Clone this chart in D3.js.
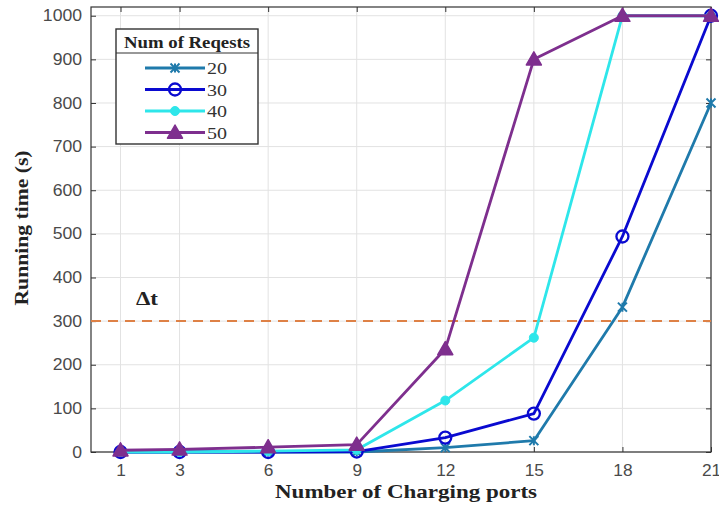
<!DOCTYPE html>
<html>
<head>
<meta charset="utf-8">
<script src="https://cdn.jsdelivr.net/npm/d3@7"></script>
<style>
  html, body { margin: 0; padding: 0; background: #fff; }
  svg { display: block; }
</style>
</head>
<body>
<svg id="chart" width="719" height="506"></svg>
<script>
// Number of charging ports on the x axis
const ports = [1, 3, 6, 9, 12, 15, 18, 21];
const xTicks = [1, 3, 6, 9, 12, 15, 18, 21];
const yTicks = [0, 100, 200, 300, 400, 500, 600, 700, 800, 900, 1000];

// Running time (s) for each number of requests
const run20 = [0, 0, 0, 0, 10, 26, 332, 800];
const run30 = [0, 0, 0, 1, 33, 88, 494, 1000];
const run40 = [0, 0, 2, 5, 118, 262, 1000, 1000];
const run50 = [4, 6, 11, 17, 236, 900, 1000, 1000];

const seriesNames = ["20", "30", "40", "50"];
const seriesColors = ["#1f7aab", "#0a0ad0", "#2ee6ea", "#7e2f8e"];
const seriesMarkers = ["asterisk", "circle", "dot", "triangle"];
const threshold = 300;
const thresholdLabel = "Δt";

const series = [run20, run30, run40, run50].map((vals, i) => ({
  name: seriesNames[i], color: seriesColors[i], marker: seriesMarkers[i],
  points: ports.map((p, j) => [p, vals[j]])
}));

const svg = d3.select("#chart");
const plotL = 91, plotR = 711, plotT = 7, plotB = 452;

const x = d3.scaleLinear().domain([0, 21]).range([plotL, plotR]);
const y = d3.scaleLinear().domain([0, 1020]).range([plotB, plotT]);

const serif = "'Liberation Serif', 'Times New Roman', serif";
const sans = "'Liberation Sans', Arial, sans-serif";

// widen text horizontally by a factor (the figure uses slightly wide glyphs)
function widen(sel, factor) {
  sel.each(function () {
    const len = this.getComputedTextLength();
    d3.select(this).attr("textLength", len * factor).attr("lengthAdjust", "spacingAndGlyphs");
  });
}

// grid
const grid = svg.append("g");
grid.selectAll(".gx").data(xTicks).enter().append("line")
  .attr("x1", d => x(d)).attr("x2", d => x(d))
  .attr("y1", plotT).attr("y2", plotB)
  .attr("stroke", "#e2e2e2").attr("stroke-width", 1);
grid.selectAll(".gy").data(yTicks).enter().append("line")
  .attr("x1", plotL).attr("x2", plotR)
  .attr("y1", d => y(d)).attr("y2", d => y(d))
  .attr("stroke", "#e2e2e2").attr("stroke-width", 1);

// axes with inward ticks on all sides
function styleAxis(g) {
  g.select(".domain").remove();
  g.selectAll(".tick line").attr("stroke", "#333").attr("stroke-width", 1);
  g.selectAll(".tick text").attr("fill", "#4a4a4a")
    .style("font-family", sans).style("font-size", "16px");
}
const xAxisG = svg.append("g").attr("transform", `translate(0,${plotB})`)
  .call(d3.axisBottom(x).tickValues(xTicks).tickSize(-5).tickPadding(13).tickFormat(d3.format("d")))
  .call(styleAxis);
svg.append("g").attr("transform", `translate(0,${plotT})`)
  .call(d3.axisTop(x).tickValues(xTicks).tickSize(-5).tickFormat(""))
  .call(styleAxis);
const yAxisG = svg.append("g").attr("transform", `translate(${plotL},0)`)
  .call(d3.axisLeft(y).tickValues(yTicks).tickSize(-5).tickPadding(9).tickFormat(d3.format("d")))
  .call(styleAxis);
svg.append("g").attr("transform", `translate(${plotR},0)`)
  .call(d3.axisRight(y).tickValues(yTicks).tickSize(-5).tickFormat(""))
  .call(styleAxis);
widen(xAxisG.selectAll(".tick text"), 1.08);
widen(yAxisG.selectAll(".tick text"), 1.1);

svg.append("rect").attr("x", plotL).attr("y", plotT)
  .attr("width", plotR - plotL).attr("height", plotB - plotT)
  .attr("fill", "none").attr("stroke", "#333").attr("stroke-width", 1.2);

// threshold line
svg.append("line")
  .attr("x1", plotL).attr("x2", plotR)
  .attr("y1", y(threshold)).attr("y2", y(threshold))
  .attr("stroke", "#de8146").attr("stroke-width", 2)
  .attr("stroke-dasharray", "10,7");
svg.append("text").attr("x", 136).attr("y", y(threshold) - 16)
  .text(thresholdLabel)
  .attr("textLength", 22).attr("lengthAdjust", "spacingAndGlyphs")
  .style("font-family", serif).style("font-weight", "bold").style("font-size", "18px")
  .attr("fill", "#222");

// marker drawing
function drawMarker(g, type, color, cx, cy, scale = 1) {
  if (type === "asterisk") {
    const s = 4.5 * scale;
    const p = `M${cx - s},${cy - s}L${cx + s},${cy + s}M${cx - s},${cy + s}L${cx + s},${cy - s}M${cx},${cy - s}L${cx},${cy + s}`;
    g.append("path").attr("d", p).attr("stroke", color).attr("stroke-width", 2).attr("fill", "none");
  } else if (type === "circle") {
    g.append("circle").attr("cx", cx).attr("cy", cy).attr("r", 6 * scale)
      .attr("fill", "none").attr("stroke", color).attr("stroke-width", 2.3);
  } else if (type === "dot") {
    g.append("circle").attr("cx", cx).attr("cy", cy).attr("r", 4.5 * scale)
      .attr("fill", color).attr("stroke", color).attr("stroke-width", 1);
  } else if (type === "triangle") {
    const s = 7.5 * scale;
    g.append("path")
      .attr("d", `M${cx},${cy - s}L${cx + s},${cy + s * 0.75}L${cx - s},${cy + s * 0.75}Z`)
      .attr("fill", color).attr("stroke", color).attr("stroke-width", 1.5)
      .attr("stroke-linejoin", "round");
  }
}

// series lines and markers
const line = d3.line().x(d => x(d[0])).y(d => y(d[1]));
series.forEach(s => {
  const g = svg.append("g");
  g.append("path").datum(s.points).attr("d", line)
    .attr("fill", "none").attr("stroke", s.color).attr("stroke-width", 2.8)
    .attr("stroke-linejoin", "round");
  s.points.forEach(p => drawMarker(g, s.marker, s.color, x(p[0]), y(p[1])));
});

// legend
const lg = svg.append("g");
const lx = 116, ly = 29, lw = 142, lh = 115;
lg.append("rect").attr("x", lx).attr("y", ly).attr("width", lw).attr("height", lh)
  .attr("fill", "#fff").attr("stroke", "#333").attr("stroke-width", 1.4);
lg.append("line").attr("x1", lx).attr("x2", lx + lw).attr("y1", ly + 24).attr("y2", ly + 24)
  .attr("stroke", "#333").attr("stroke-width", 1.2);
lg.append("text").attr("x", lx + lw / 2).attr("y", ly + 19).attr("text-anchor", "middle")
  .text("Num of Reqests")
  .attr("textLength", 126).attr("lengthAdjust", "spacingAndGlyphs")
  .style("font-family", serif).style("font-weight", "bold").style("font-size", "16px").attr("fill", "#222");
series.forEach((s, i) => {
  const cy = ly + 39 + i * 21.5;
  lg.append("line").attr("x1", 145).attr("x2", 205).attr("y1", cy).attr("y2", cy)
    .attr("stroke", s.color).attr("stroke-width", 2.8);
  drawMarker(lg, s.marker, s.color, 175, cy);
  lg.append("text").attr("x", 207).attr("y", cy + 6).text(s.name)
    .attr("textLength", 20).attr("lengthAdjust", "spacingAndGlyphs")
    .style("font-family", serif).style("font-size", "16px").attr("fill", "#333");
});

// axis titles
svg.append("text")
  .attr("transform", "translate(28,228) rotate(-90)")
  .attr("text-anchor", "middle")
  .text("Running time (s)")
  .attr("textLength", 155).attr("lengthAdjust", "spacingAndGlyphs")
  .style("font-family", serif).style("font-weight", "bold").style("font-size", "19px").attr("fill", "#222");
svg.append("text")
  .attr("x", 406).attr("y", 498).attr("text-anchor", "middle")
  .text("Number of Charging ports")
  .attr("textLength", 262).attr("lengthAdjust", "spacingAndGlyphs")
  .style("font-family", serif).style("font-weight", "bold").style("font-size", "19px").attr("fill", "#222");
</script>
</body>
</html>
